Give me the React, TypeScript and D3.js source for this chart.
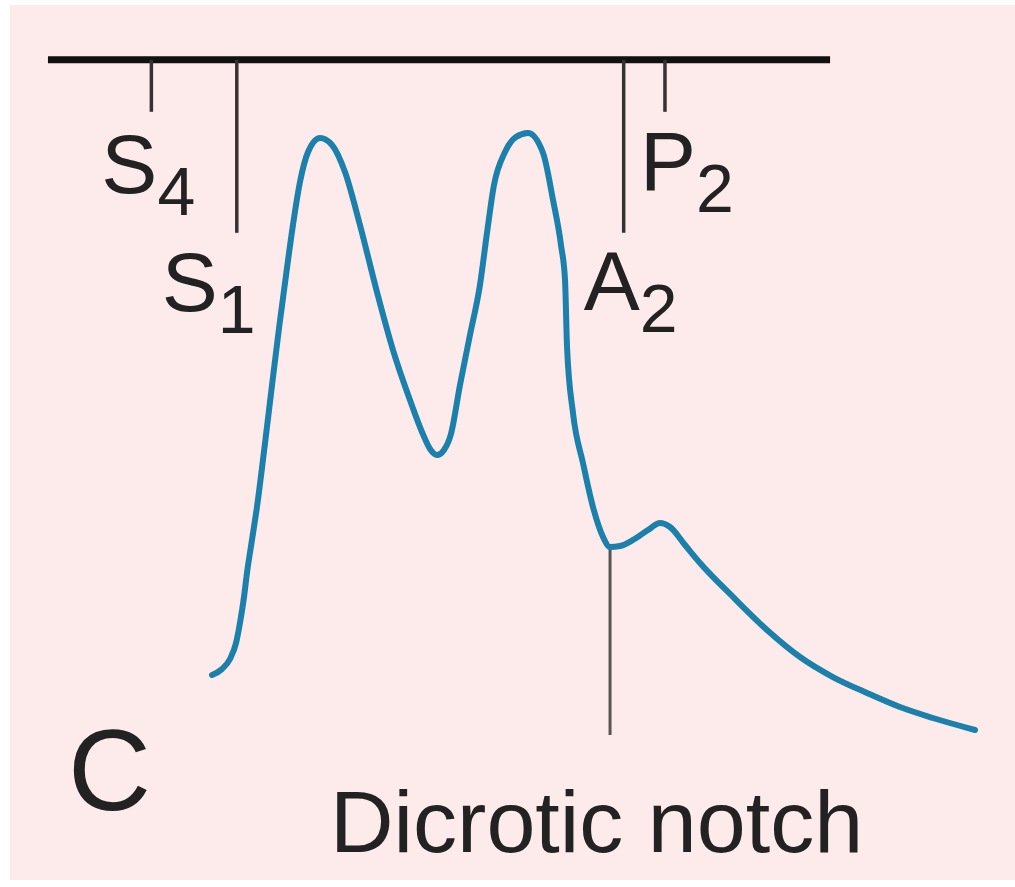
import React from 'react';
import * as d3 from 'd3';

// pressure trace: time (arbitrary units) and pressure (arbitrary units)
const traceTime = [
  17.92, 18.96, 19.79, 20.42, 20.83, 21.25, 21.56, 22.08, 22.6, 23.44, 24.17, 24.9, 25.63,
  26.35, 27.08, 27.92, 29.17, 30.42, 31.77, 33.33, 35.1, 36.77, 38.54, 39.79, 40.63, 41.35,
  42.08, 42.81, 43.75, 44.79, 45.83, 46.56, 47.29, 48.44, 49.58, 50.83, 52.4, 53.44, 54.27,
  54.69, 54.9, 55.52, 56.56, 57.6, 58.65, 59.38, 60.42, 61.77, 63.33, 64.58, 65.63, 67.19,
  68.75, 72.19, 75.73, 79.17, 82.6, 86.15, 89.58, 93.02, 97.4,
];
const tracePressure = [
  4.17, 5.17, 6.83, 9.5, 12.83, 17.17, 21.17, 26.67, 32.17, 42.83, 52.5, 62.0, 70.83,
  79.17, 86.33, 91.33, 93.67, 92.5, 88.0, 79.17, 68.0, 58.33, 50.0, 44.67, 41.83, 40.83,
  41.67, 44.33, 52.5, 60.83, 69.17, 77.83, 85.83, 91.33, 93.83, 94.5, 91.17, 83.33, 75.83,
  70.0, 58.83, 47.83, 39.5, 32.17, 27.17, 25.5, 25.67, 26.67, 28.33, 29.5, 28.83, 25.83,
  22.83, 17.17, 11.67, 7.17, 3.83, 1.17, -1.17, -3.0, -5.0,
];

// heart sounds on the timeline
const soundNames = ['S', 'S', 'A', 'P'];
const soundSubs = ['4', '1', '2', '2'];
const soundTimes = [11.6, 20.5, 60.8, 65.1];

const timelineStart = 0.83;
const timelineEnd = 82.3;
const timelineLevel = 106.7;
const notchTime = 59.38;
const notchPressure = 25.5;
const notchLabel = 'Dicrotic notch';
const panelLabel = 'C';

const W = 1015;
const H = 887;

export default function App() {
  const x = d3.scaleLinear().domain([0, 100]).range([40, 1000]);
  const y = d3.scaleLinear().domain([0, 100]).range([700, 100]);

  const pts: [number, number][] = traceTime.map((t, i) => [t, tracePressure[i]]);
  const line = d3
    .line<[number, number]>()
    .x((d) => x(d[0]))
    .y((d) => y(d[1]))
    .curve(d3.curveMonotoneX);

  const yLine = y(timelineLevel);
  // short ticks for S4/P2, long ticks for S1/A2
  const tickLen = [52, 173, 173, 52];
  // label offsets relative to tick x / timeline
  const labelLayout = [
    { dx: -50, dy: 133 },
    { dx: -75, dy: 251 },
    { dx: -40, dy: 250 },
    { dx: -25, dy: 130 },
  ];
  const font = 'Liberation Sans, Arial, Helvetica, sans-serif';
  const ink = '#222';

  return (
    <svg
      width={W}
      height={H}
      style={{ position: 'absolute', left: 0, top: 0, background: '#fff' }}
    >
      <rect x={10} y={5} width={W - 10} height={875} fill="#fcebea" />
      <line
        x1={x(timelineStart)}
        x2={x(timelineEnd)}
        y1={yLine}
        y2={yLine}
        stroke="#111"
        strokeWidth={7}
      />
      {soundTimes.map((t, i) => (
        <g key={i}>
          <line
            x1={x(t)}
            x2={x(t)}
            y1={yLine}
            y2={yLine + tickLen[i]}
            stroke="#333"
            strokeWidth={3.5}
          />
          <text
            x={x(t) + labelLayout[i].dx}
            y={yLine + labelLayout[i].dy}
            fontFamily={font}
            fontSize={84}
            fill={ink}
          >
            {soundNames[i]}
            <tspan dy={22} fontSize={68}>
              {soundSubs[i]}
            </tspan>
          </text>
        </g>
      ))}
      <line
        x1={x(notchTime)}
        x2={x(notchTime)}
        y1={y(notchPressure)}
        y2={735}
        stroke="#555"
        strokeWidth={3}
      />
      <path
        d={line(pts) || ''}
        fill="none"
        stroke="#1b80ab"
        strokeWidth={6}
        strokeLinecap="round"
        strokeLinejoin="round"
      />
      <text x={68} y={810} fontFamily={font} fontSize={115} fill={ink}>
        {panelLabel}
      </text>
      <text x={330} y={852} fontFamily={font} fontSize={88} fill={ink}>
        {notchLabel}
      </text>
    </svg>
  );
}
